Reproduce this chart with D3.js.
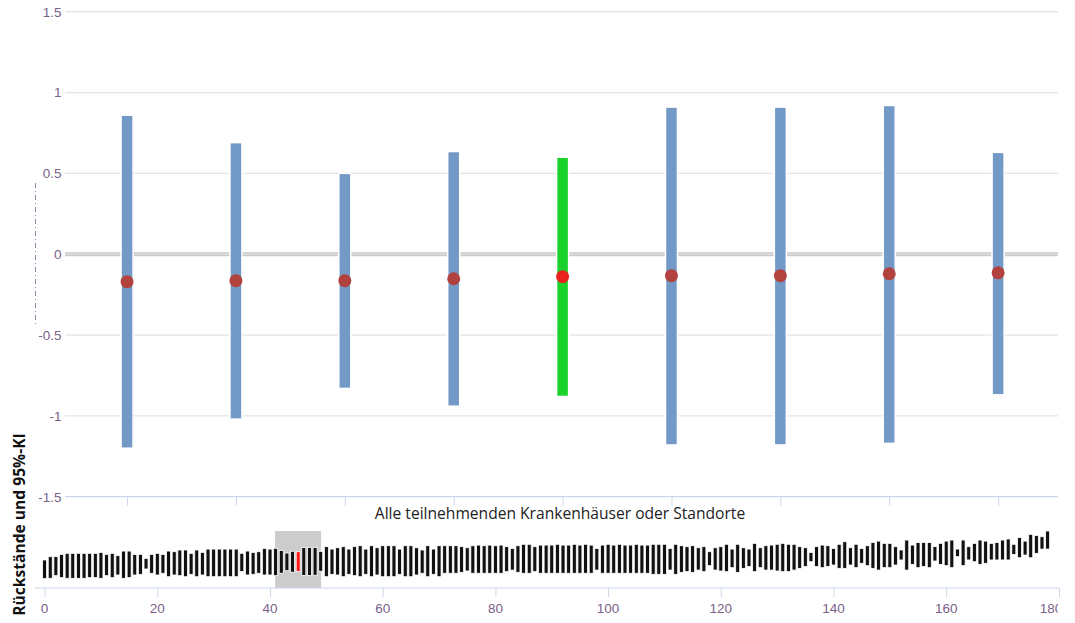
<!DOCTYPE html>
<html>
<head>
<meta charset="utf-8">
<script src="https://cdn.jsdelivr.net/npm/d3@7"></script>
<style>
  html, body { margin: 0; padding: 0; background: #ffffff; }
  svg { display: block; }
</style>
</head>
<body>
<svg id="chart" width="1075" height="623"></svg>
<script>
// Residuals (upper / lower 95% CI) for all participating hospitals, sorted by estimate
const upperCI = [
  -0.02, 0.23, 0.23, 0.40, 0.48, 0.48, 0.48, 0.48, 0.48, 0.48,
  0.55, 0.40, 0.48, 0.30, 0.65, 0.65, 0.40, 0.40, 0.10, 0.40,
  0.48, 0.40, 0.65, 0.60, 0.73, 0.73, 0.48, 0.73, 0.55, 0.80,
  0.80, 0.80, 0.80, 0.80, 0.80, 0.48, 0.65, 0.55, 0.60, 0.85,
  0.80, 0.86, 0.69, 0.50, 0.635, 0.60, 0.91, 0.91, 0.92, 0.63,
  0.98, 0.80, 0.90, 0.98, 0.80, 0.98, 1.05, 0.80, 1.05, 0.90,
  1.05, 1.05, 1.05, 0.80, 1.05, 1.05, 0.90, 0.73, 1.05, 0.80,
  1.05, 1.05, 1.05, 1.05, 0.98, 0.90, 1.05, 1.10, 1.05, 1.10,
  1.05, 1.10, 0.98, 0.85, 1.05, 1.16, 1.16, 0.98, 1.10, 1.10,
  1.10, 1.16, 1.10, 1.10, 1.16, 1.10, 1.16, 1.10, 0.85, 1.10,
  1.16, 1.10, 1.16, 1.10, 1.10, 1.16, 1.10, 1.10, 1.16, 1.16,
  1.16, 0.85, 1.16, 1.05, 0.98, 1.05, 0.90, 0.98, 0.60, 0.90,
  0.98, 1.16, 0.80, 1.16, 0.90, 0.80, 1.23, 0.90, 1.05, 1.10,
  1.16, 1.23, 1.16, 1.16, 0.98, 0.90, 0.55, 0.98, 1.10, 1.05,
  0.85, 1.16, 1.35, 0.90, 1.16, 0.85, 1.05, 1.30, 1.40, 1.23,
  1.23, 0.98, 0.73, 1.48, 1.10, 1.30, 1.30, 1.30, 0.98, 1.23,
  1.40, 1.48, 0.80, 1.48, 0.98, 1.23, 1.48, 1.40, 1.23, 1.30,
  1.48, 1.56, 1.16, 1.66, 1.40, 1.91, 1.81, 1.73, 2.16
];
const lowerCI = [
  -1.42, -1.40, -1.20, -1.35, -1.40, -1.40, -1.40, -1.40, -1.35, -1.35,
  -1.40, -1.20, -1.35, -1.15, -1.40, -1.35, -1.15, -1.10, -0.70, -1.02,
  -1.15, -1.02, -1.28, -1.15, -1.20, -1.28, -1.10, -1.28, -1.15, -1.28,
  -1.28, -1.28, -1.28, -1.28, -1.28, -0.90, -1.15, -1.10, -1.02, -1.15,
  -1.15, -1.20, -1.02, -0.83, -0.94, -0.88, -1.18, -1.18, -1.17, -0.87,
  -1.28, -1.10, -1.15, -1.28, -1.10, -1.20, -1.28, -1.10, -1.28, -1.15,
  -1.28, -1.28, -1.28, -1.10, -1.28, -1.28, -1.15, -1.02, -1.28, -1.10,
  -1.28, -1.02, -1.02, -1.02, -0.95, -0.85, -1.02, -1.02, -1.02, -1.02,
  -1.02, -1.02, -0.90, -0.78, -0.95, -1.02, -1.02, -0.90, -1.02, -1.02,
  -1.02, -1.02, -1.02, -1.02, -1.02, -1.02, -1.02, -1.02, -0.78, -1.02,
  -1.02, -1.02, -1.02, -1.02, -1.02, -1.02, -1.02, -1.02, -1.10, -1.10,
  -1.10, -0.78, -1.10, -0.95, -0.90, -0.95, -0.78, -0.90, -0.45, -0.78,
  -0.85, -0.90, -0.60, -0.95, -0.65, -0.52, -0.90, -0.60, -0.78, -0.78,
  -0.85, -0.90, -0.90, -0.78, -0.65, -0.52, -0.15, -0.52, -0.60, -0.52,
  -0.40, -0.65, -0.65, -0.40, -0.60, -0.27, -0.45, -0.65, -0.78, -0.60,
  -0.60, -0.40, -0.02, -0.78, -0.35, -0.60, -0.52, -0.60, -0.10, -0.35,
  -0.45, -0.60, 0.23, -0.45, -0.02, -0.15, -0.35, -0.27, -0.02, -0.02,
  -0.02, -0.02, 0.40, 0.15, 0.35, 0.15, 0.48, 0.80, 0.80
];

// Detail window shown in the upper chart
const windowIndices = [41, 42, 43, 44, 45, 46, 47, 48, 49];
const windowEstimates = [-0.170, -0.164, -0.164, -0.152, -0.139, -0.133, -0.133, -0.121, -0.115];
const selectedHospital = 45;
const selectionExtent = [40.9, 49.07];

const yTicks = [-1.5, -1, -0.5, 0, 0.5, 1, 1.5];
const navTicks = [0, 20, 40, 60, 80, 100, 120, 140, 160, 180];

const yTitle = "Rückstände und 95%-KI";
const navTitle = "Alle teilnehmenden Krankenhäuser oder Standorte";

const svg = d3.select("#chart");
const labelColor = "#7a6188";
const axisBlue = "#ccd6eb";
const tickFont = "'Liberation Sans', Arial, sans-serif";
const textFont = "'Open Sans', 'Noto Sans', sans-serif";

// ---- Main detail chart ----
const x = d3.scaleLinear().domain([40.43, 49.55]).range([65, 1058]);
const y = d3.scaleLinear().domain([-1.5, 1.5]).range([496.7, 11.7]);

const grid = svg.append("g");
grid.selectAll("line.grid")
  .data(yTicks.filter(t => t !== 0 && t !== -1.5))
  .join("line")
  .attr("x1", 65).attr("x2", 1058)
  .attr("y1", d => y(d)).attr("y2", d => y(d))
  .attr("stroke", "#e3e3e3").attr("stroke-width", 1.2);

// Zero reference line
grid.append("line")
  .attr("x1", 65).attr("x2", 1058).attr("y1", y(0)).attr("y2", y(0))
  .attr("stroke", "#c9c9c9").attr("stroke-width", 4);
grid.append("line")
  .attr("x1", 65).attr("x2", 1058).attr("y1", y(0)).attr("y2", y(0))
  .attr("stroke", "#e6e6e6").attr("stroke-width", 1);

// Bottom axis with category ticks
const xAxis = d3.axisBottom(x).tickValues(windowIndices).tickSize(9).tickFormat("");
const gx = svg.append("g").attr("transform", `translate(0,${y(-1.5)})`).call(xAxis);
gx.select(".domain").attr("stroke", axisBlue).attr("stroke-width", 1.2).attr("d", "M65,0H1058");
gx.selectAll(".tick line").attr("stroke", axisBlue);

// Y axis labels
const yAxis = d3.axisLeft(y).tickValues(yTicks).tickSize(0).tickPadding(0)
  .tickFormat(d => String(d));
const gy = svg.append("g").attr("transform", "translate(61.5,0)").call(yAxis);
gy.select(".domain").remove();
gy.selectAll(".tick text")
  .attr("fill", labelColor)
  .style("font-family", tickFont)
  .style("font-size", "13.5px");

// Faint dash-dot marker at the left edge
svg.append("line")
  .attr("x1", 35.5).attr("x2", 35.5).attr("y1", 183).attr("y2", 325)
  .attr("stroke", "#9a88a8").attr("stroke-width", 1)
  .attr("stroke-dasharray", "5,3,1,3");

// Confidence interval bars
const detail = windowIndices.map((idx, k) => ({
  idx, lo: lowerCI[idx], hi: upperCI[idx], est: windowEstimates[k]
}));
svg.append("g").selectAll("rect")
  .data(detail)
  .join("rect")
  .attr("x", d => x(d.idx) - 6)
  .attr("width", 12)
  .attr("y", d => y(d.hi))
  .attr("height", d => y(d.lo) - y(d.hi))
  .attr("fill", d => d.idx === selectedHospital ? "#19d22b" : "#7399c6")
  .attr("stroke", "#ffffff").attr("stroke-width", 1.5);

// Point estimates
svg.append("g").selectAll("circle")
  .data(detail)
  .join("circle")
  .attr("cx", d => x(d.idx))
  .attr("cy", d => y(d.est))
  .attr("r", 6.5)
  .attr("fill", d => d.idx === selectedHospital ? "#e8221e" : "#b2423d");

// Y axis title
svg.append("text")
  .attr("transform", "translate(24.5,524.5) rotate(-90)")
  .attr("text-anchor", "middle")
  .style("font-family", textFont)
  .style("font-size", "15.6px")
  .style("font-weight", "bold")
  .attr("fill", "#111")
  .text(yTitle);

// ---- Navigator (all hospitals) ----
const nx = d3.scaleLinear().domain([0, 180]).range([44.6, 1058.9]);
const ny = d3.scaleLinear().domain([-2.13, 2.16]).range([588, 531]);

svg.append("text")
  .attr("x", 560).attr("y", 519)
  .attr("text-anchor", "middle")
  .style("font-family", textFont)
  .style("font-size", "15.6px")
  .attr("fill", "#222")
  .text(navTitle);

svg.append("rect")
  .attr("x", nx(selectionExtent[0]))
  .attr("width", nx(selectionExtent[1]) - nx(selectionExtent[0]))
  .attr("y", ny(2.16)).attr("height", ny(-2.13) - ny(2.16))
  .attr("fill", "#cccccc");

const navData = upperCI.map((hi, i) => ({ i, hi, lo: lowerCI[i] }));
svg.append("g").selectAll("rect")
  .data(navData)
  .join("rect")
  .attr("x", d => nx(d.i) - 2)
  .attr("width", 4)
  .attr("y", d => ny(d.hi))
  .attr("height", d => ny(d.lo) - ny(d.hi))
  .attr("fill", d => d.i === selectedHospital ? "#ff1a1a" : "#111111")
  .attr("stroke", "#ffffff").attr("stroke-width", 0.8);

svg.append("clipPath").attr("id", "navClip")
  .append("rect").attr("x", 0).attr("y", 580).attr("width", 1058).attr("height", 43);

const navAxis = d3.axisBottom(nx).tickValues(navTicks).tickSize(9).tickFormat("");
const gnav = svg.append("g").attr("transform", "translate(0,588)").call(navAxis);
gnav.select(".domain").attr("stroke", axisBlue).attr("stroke-width", 1.2).attr("d", "M35,0H1059");
gnav.selectAll(".tick line").attr("stroke", axisBlue);

// Tick labels; the last one is pulled inward and clipped at the plot edge
const lastTick = navTicks[navTicks.length - 1];
svg.append("g").attr("clip-path", "url(#navClip)")
  .selectAll("text")
  .data(navTicks)
  .join("text")
  .attr("x", d => nx(d) - (d === lastTick ? 8 : 0))
  .attr("y", 613)
  .attr("text-anchor", "middle")
  .attr("fill", labelColor)
  .style("font-family", tickFont)
  .style("font-size", "13.5px")
  .text(d => d3.format("d")(d));
</script>
</body>
</html>
